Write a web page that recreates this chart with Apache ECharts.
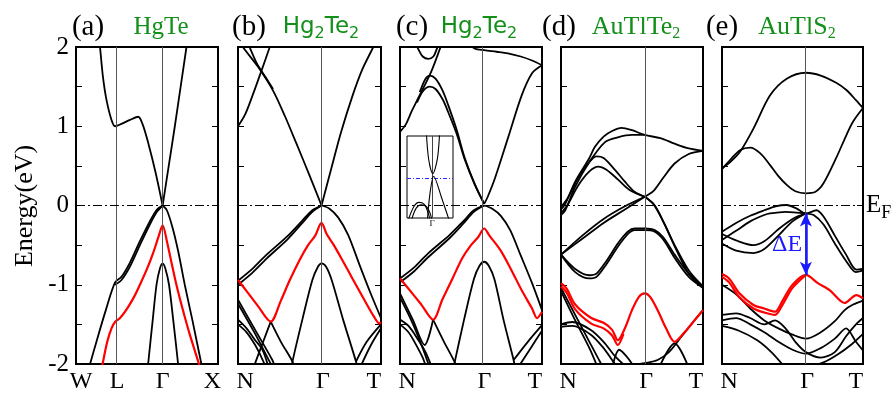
<!DOCTYPE html>
<html>
<head>
<meta charset="utf-8">
<script src="https://cdn.jsdelivr.net/npm/echarts@6/dist/echarts.min.js"></script>
<style>
  html, body { margin: 0; padding: 0; background: #fff; }
  #chart { width: 896px; height: 395px; }
</style>
</head>
<body>
<div id="chart"></div>
<script>
// ---- k-path labels ----
const kLabelsA = ['W', 'L', 'Γ', 'X'];
const kLabelPosA = [0.035, 0.29, 0.61, 0.96];
const kLinesA = [0.275, 0.61];
const kLabelsN = ['N', 'Γ', 'T'];
const gammaPos = [0.584, 0.584, 0.59, 0.595]; // panels b..e

// ---- (a) HgTe ----
const aBlack = [
  [[0.15,2.3],[0.169,2.0],[0.19,1.62],[0.215,1.33],[0.25,1.08],[0.275,1.0],[0.32,1.03],[0.38,1.08],[0.438,1.12],[0.47,1.02],[0.51,0.78],[0.56,0.42],[0.61,0.0]],
  [[0.61,0],[0.653,0.5],[0.696,1.0],[0.737,1.5],[0.778,2.0],[0.79,2.15]],
  [[0.08,-2.12],[0.15,-1.68],[0.21,-1.32],[0.275,-0.97],[0.32,-0.9],[0.38,-0.72],[0.45,-0.45],[0.52,-0.2],[0.57,-0.05],[0.61,0]],
  [[0.275,-1.0],[0.32,-0.94],[0.38,-0.77],[0.45,-0.5],[0.52,-0.24],[0.57,-0.08],[0.61,0]],
  [[0.61,0],[0.64,-0.06],[0.68,-0.28],[0.72,-0.58],[0.766,-1.0],[0.82,-1.45],[0.883,-2.0],[0.9,-2.15]],
  [[0.5,-2.15],[0.508,-2.0],[0.54,-1.45],[0.567,-1.0],[0.59,-0.8],[0.61,-0.73],[0.63,-0.8],[0.655,-1.0],[0.685,-1.45],[0.719,-2.0],[0.727,-2.15]]
];
const aRed = [
  [[0.17,-2.15],[0.187,-2.0],[0.22,-1.72],[0.25,-1.55],[0.275,-1.47],[0.31,-1.42],[0.36,-1.3],[0.41,-1.15],[0.45,-1.0],[0.5,-0.8],[0.543,-0.6],[0.58,-0.4],[0.61,-0.25],[0.64,-0.45],[0.67,-0.7],[0.707,-1.0],[0.75,-1.3],[0.8,-1.62],[0.866,-2.0],[0.89,-2.15]]
];

// ---- (b) Hg2Te2 ----
const bBlack = [
  [[0.584,0],[0.65,0.45],[0.72,0.92],[0.8,1.38],[0.87,1.72],[0.946,2.0],[0.97,2.1]],
  [[0.02,2.08],[0.035,2.0],[0.14,1.75],[0.245,1.45],[0.33,1.12],[0.409,0.78],[0.5,0.38],[0.584,0]],
  [[0.07,2.05],[0.13,1.8],[0.2,1.6],[0.245,1.47]],
  [[0,1.0],[0.05,1.15],[0.1,1.38],[0.16,1.68],[0.222,2.0],[0.24,2.1]],
  [[0,-0.95],[0.1,-0.8],[0.2,-0.62],[0.35,-0.38],[0.45,-0.19],[0.52,-0.06],[0.584,0]],
  [[0,-1.0],[0.1,-0.85],[0.2,-0.67],[0.35,-0.42],[0.45,-0.22],[0.52,-0.08],[0.584,0]],
  [[0.584,0],[0.64,-0.04],[0.7,-0.15],[0.77,-0.37],[0.85,-0.75],[0.93,-1.12],[1.0,-1.42]],
  [[0.36,-2.2],[0.381,-1.97],[0.45,-1.44],[0.52,-0.94],[0.56,-0.77],[0.584,-0.73],[0.615,-0.77],[0.655,-0.94],[0.735,-1.44],[0.825,-1.97],[0.84,-2.1]],
  [[0,-1.19],[0.12,-1.57],[0.24,-1.95],[0.26,-2.05]],
  [[0,-1.24],[0.12,-1.62],[0.23,-2.0],[0.245,-2.05]],
  [[0.229,-1.465],[0.3,-1.72],[0.381,-1.97],[0.39,-2.05]],
  [[0.11,-2.05],[0.124,-1.97],[0.18,-1.7],[0.229,-1.465]],
  [[0,-1.44],[0.06,-1.55],[0.12,-1.7],[0.171,-1.82],[0.21,-2.02]],
  [[0,-1.5],[0.06,-1.6],[0.12,-1.76],[0.16,-1.9],[0.19,-2.02]],
  [[0.825,-1.97],[0.9,-1.72],[1.0,-1.5]],
  [[0.86,-2.02],[0.93,-1.76],[1.0,-1.55]]
];
const bRed = [
  [[0,-0.94],[0.06,-1.08],[0.14,-1.27],[0.229,-1.465],[0.3,-1.2],[0.36,-0.95],[0.43,-0.69],[0.49,-0.5],[0.54,-0.38],[0.584,-0.22],[0.62,-0.36],[0.67,-0.5],[0.73,-0.69],[0.8,-0.92],[0.88,-1.18],[0.95,-1.4],[0.99,-1.49],[1.0,-1.47]]
];

// ---- (c) Hg2Te2 ----
const cBlack = [
  [[0.48,2.05],[0.527,1.98],[0.593,1.96],[0.68,1.94],[0.76,1.92],[0.85,1.88],[0.93,1.83],[1.0,1.77]],
  [[1.0,1.77],[0.93,1.67],[0.857,1.39],[0.76,0.85],[0.668,0.34],[0.62,0.12],[0.593,0.02]],
  [[0,0.93],[0.04,1.02],[0.08,1.18],[0.127,1.35],[0.22,1.69],[0.29,2.02],[0.3,2.06]],
  [[0.139,1.43],[0.18,1.6],[0.21,1.64],[0.25,1.6],[0.3,1.45],[0.339,1.27],[0.4,0.95],[0.456,0.6],[0.527,0.27],[0.593,0.02]],
  [[0.12,1.3],[0.16,1.44],[0.21,1.5],[0.25,1.47],[0.3,1.34],[0.339,1.18],[0.4,0.9],[0.456,0.58],[0.527,0.26],[0.593,0.02]],
  [[0.11,2.05],[0.127,1.98],[0.16,1.88],[0.2,1.85],[0.235,1.88],[0.26,1.98],[0.27,2.05]],
  [[0,-0.92],[0.1,-0.78],[0.2,-0.6],[0.35,-0.37],[0.45,-0.19],[0.52,-0.06],[0.593,0]],
  [[0,-0.97],[0.1,-0.83],[0.2,-0.65],[0.35,-0.41],[0.45,-0.22],[0.52,-0.08],[0.593,0]],
  [[0.593,0],[0.65,-0.04],[0.71,-0.13],[0.776,-0.31],[0.85,-0.63],[0.93,-0.98],[1.0,-1.32]],
  [[0.37,-2.1],[0.386,-1.97],[0.45,-1.45],[0.52,-0.93],[0.56,-0.76],[0.593,-0.71],[0.625,-0.76],[0.665,-0.93],[0.73,-1.45],[0.8,-1.95],[0.81,-2.05]],
  [[0.8,-1.95],[0.9,-1.72],[1.0,-1.51]],
  [[0.84,-2.02],[0.92,-1.8],[1.0,-1.58]],
  [[0,-1.11],[0.09,-1.44],[0.174,-1.76],[0.233,-1.44]],
  [[0,-1.16],[0.09,-1.49],[0.16,-1.8],[0.2,-2.0]],
  [[0.233,-1.44],[0.31,-1.72],[0.386,-1.98],[0.395,-2.05]],
  [[0,-1.44],[0.06,-1.52],[0.13,-1.7],[0.18,-1.85],[0.22,-2.02]],
  [[0,-1.5],[0.06,-1.6],[0.12,-1.78],[0.16,-1.92],[0.18,-2.02]]
];
const cRed = [
  [[0,-0.92],[0.06,-1.05],[0.15,-1.25],[0.233,-1.44],[0.3,-1.18],[0.37,-0.92],[0.44,-0.66],[0.5,-0.5],[0.55,-0.4],[0.593,-0.29],[0.63,-0.38],[0.706,-0.56],[0.78,-0.8],[0.86,-1.08],[0.93,-1.3],[0.965,-1.42],[1.0,-1.34]]
];
// inset of (c), axes 0..1
const insetBlack = [
  [[0.42,1.05],[0.47,0.72],[0.56,0.54],[0.66,0.72],[0.71,1.05]],
  [[0.44,-0.05],[0.5,0.3],[0.58,0.51],[0.75,0.25],[0.93,-0.05]],
  [[0.03,-0.02],[0.15,0.14],[0.26,0.19],[0.37,0.17],[0.45,0.08],[0.5,-0.02]],
  [[0.1,-0.02],[0.2,0.12],[0.31,0.16],[0.42,0.14],[0.5,0.06],[0.54,-0.02]]
];
const insetGamma = 0.547;
const insetFermi = 0.49;

// ---- (d) AuTlTe2 ----
const dBlack = [
  [[0,-0.05],[0.03,0.02],[0.1,0.3],[0.2,0.6],[0.239,0.74],[0.3,0.87],[0.36,0.94],[0.426,0.98],[0.5,0.95],[0.59,0.89],[0.7,0.85],[0.8,0.78],[0.9,0.72],[1,0.69]],
  [[0,-0.12],[0.03,-0.06],[0.1,0.24],[0.2,0.55],[0.31,0.8],[0.4,0.86],[0.5,0.89],[0.59,0.89]],
  [[0,-0.02],[0.05,0.1],[0.12,0.35],[0.2,0.55],[0.25,0.62],[0.3,0.6],[0.38,0.45],[0.45,0.3],[0.52,0.17],[0.59,0.11]],
  [[0,-0.1],[0.05,0.02],[0.12,0.25],[0.2,0.43],[0.262,0.49],[0.32,0.45],[0.4,0.33],[0.48,0.2],[0.59,0.11]],
  [[0.59,0.11],[0.65,0.18],[0.72,0.35],[0.8,0.53],[0.9,0.65],[1,0.69]],
  [[0.59,0.11],[0.65,0.02],[0.72,-0.2],[0.8,-0.5],[0.9,-0.82],[1,-1.02]],
  [[0.59,0.11],[0.66,0.0],[0.73,-0.24],[0.81,-0.55],[0.9,-0.86],[1,-1.04]],
  [[0,-0.62],[0.15,-0.42],[0.3,-0.22],[0.45,-0.05],[0.59,0.11]],
  [[0,-0.62],[0.15,-0.38],[0.3,-0.17],[0.45,-0.01],[0.59,0.11]],
  [[0,-0.62],[0.1,-0.8],[0.2,-0.88],[0.25,-0.86],[0.32,-0.7],[0.4,-0.48],[0.47,-0.33],[0.52,-0.29],[0.59,-0.29],[0.66,-0.31],[0.72,-0.4],[0.8,-0.62],[0.9,-0.86],[1,-1.02]],
  [[0,-0.62],[0.1,-0.84],[0.2,-0.92],[0.25,-0.9],[0.32,-0.74],[0.4,-0.52],[0.47,-0.36],[0.52,-0.31],[0.59,-0.31],[0.66,-0.33],[0.72,-0.43],[0.8,-0.66],[0.9,-0.9],[1,-1.04]],
  [[0,-1.04],[0.1,-1.38],[0.2,-1.72],[0.28,-1.99],[0.3,-2.05]],
  [[0,-1.08],[0.1,-1.45],[0.2,-1.8],[0.26,-2.05]],
  [[0,-1.5],[0.08,-1.47],[0.21,-1.57],[0.3,-1.72],[0.38,-1.9],[0.45,-2.02]],
  [[0,-1.53],[0.08,-1.52],[0.21,-1.63],[0.3,-1.8],[0.36,-1.95],[0.4,-2.05]],
  [[0.36,-2.05],[0.41,-1.82],[0.46,-1.9],[0.52,-2.05]],
  [[0.42,-2.1],[0.5,-2.02],[0.59,-1.99],[0.68,-1.95],[0.76,-1.85],[0.85,-1.65],[0.93,-1.47],[1,-1.32]],
  [[0.69,-2.05],[0.8,-1.74],[0.9,-2.05]]
];
const dRed = [
  [[0,-0.98],[0.04,-1.05],[0.1,-1.25],[0.213,-1.42],[0.3,-1.48],[0.36,-1.57],[0.4,-1.7],[0.45,-1.55],[0.5,-1.32],[0.55,-1.15],[0.59,-1.11],[0.63,-1.16],[0.68,-1.32],[0.74,-1.55],[0.8,-1.72],[0.87,-1.6],[0.94,-1.45],[1,-1.32]],
  [[0,-1.02],[0.04,-1.1],[0.1,-1.31],[0.213,-1.49],[0.3,-1.55],[0.36,-1.64],[0.4,-1.76],[0.44,-1.62]]
];

// ---- (e) AuTlS2 ----
const eBlack = [
  [[0,0.47],[0.06,0.55],[0.129,0.68],[0.223,0.97],[0.341,1.39],[0.459,1.6],[0.595,1.675],[0.7,1.64],[0.81,1.55],[0.88,1.46],[0.95,1.33],[1,1.23]],
  [[0,0.46],[0.06,0.58],[0.13,0.7],[0.2,0.73],[0.27,0.66],[0.341,0.51],[0.4,0.37],[0.459,0.26],[0.52,0.18],[0.595,0.154],[0.66,0.17],[0.72,0.28],[0.81,0.6],[0.88,0.88],[0.93,1.06],[1,1.23]],
  [[0,-0.33],[0.1,-0.22],[0.2,-0.13],[0.3,-0.06],[0.38,-0.01],[0.459,0.006],[0.53,-0.04],[0.595,-0.1],[0.67,-0.06],[0.72,-0.14],[0.8,-0.38],[0.88,-0.62],[0.953,-0.81],[1,-0.8]],
  [[0,-0.435],[0.1,-0.32],[0.2,-0.2],[0.3,-0.12],[0.341,-0.1],[0.45,-0.08],[0.595,-0.1],[0.65,-0.12],[0.72,-0.24],[0.8,-0.48],[0.88,-0.7],[0.95,-0.84],[1,-0.82]],
  [[0,-0.36],[0.1,-0.44],[0.223,-0.5],[0.3,-0.45],[0.4,-0.3],[0.5,-0.17],[0.595,-0.1]],
  [[0,-0.48],[0.1,-0.57],[0.223,-0.6],[0.3,-0.55],[0.4,-0.38],[0.5,-0.2],[0.595,-0.1]],
  [[0,-1.0],[0.1,-1.12],[0.2,-1.3],[0.3,-1.45],[0.4,-1.55],[0.5,-1.63],[0.595,-1.68],[0.7,-1.6],[0.8,-1.46],[0.87,-1.32],[0.93,-1.25],[1,-1.2]],
  [[0,-1.38],[0.1,-1.36],[0.2,-1.42],[0.3,-1.5],[0.376,-1.45],[0.45,-1.55],[0.52,-1.72],[0.595,-1.85],[0.7,-1.92],[0.8,-1.85],[0.88,-1.65],[0.95,-1.5],[1,-1.42]],
  [[0,-1.45],[0.1,-1.42],[0.2,-1.5],[0.3,-1.6],[0.4,-1.72],[0.5,-1.82],[0.595,-1.87],[0.7,-1.8],[0.8,-1.68],[0.88,-1.55],[0.95,-1.72],[1,-1.83]],
  [[0,-1.52],[0.12,-1.58],[0.25,-1.7],[0.35,-1.85],[0.45,-2.05]],
  [[0.6,-2.05],[0.72,-1.98],[0.82,-1.88],[0.92,-1.75],[1,-1.62]]
];
const eRed = [
  [[0,-0.864],[0.05,-0.92],[0.12,-1.1],[0.223,-1.255],[0.3,-1.3],[0.376,-1.34],[0.43,-1.2],[0.5,-1.0],[0.595,-0.876],[0.68,-0.98],[0.765,-1.07],[0.87,-1.23],[0.953,-1.13],[1,-1.17]],
  [[0,-0.9],[0.05,-0.97],[0.12,-1.15],[0.223,-1.3],[0.3,-1.35],[0.376,-1.38],[0.43,-1.25],[0.5,-1.04],[0.595,-0.876]]
];
const gapEnds = [-0.1, -0.875]; // ΔE arrow at Γ

// ---- titles ----
const panelTags = ['(a)', '(b)', '(c)', '(d)', '(e)'];
const panelNames = ['{n|HgTe}', '{n|Hg}{s|2}{n|Te}{s|2}', '{n|Hg}{s|2}{n|Te}{s|2}', '{n|AuTlTe}{s|2}', '{n|AuTlS}{s|2}'];

const SERIF = 'Liberation Serif';
const SANS = 'DejaVu Sans';
const GREEN = '#13901a';

const frames = [
  { left: 76, width: 142 }, { left: 238, width: 143 }, { left: 400, width: 142 },
  { left: 561, width: 142 }, { left: 722, width: 141 }
];
const panels = [
  { black: aBlack, red: aRed, vlines: kLinesA, labels: kLabelsA, labelPos: kLabelPosA },
  { black: bBlack, red: bRed, vlines: [gammaPos[0]], labels: kLabelsN, labelPos: [0.05, gammaPos[0] + 0.01, 0.95] },
  { black: cBlack, red: cRed, vlines: [gammaPos[1]], labels: kLabelsN, labelPos: [0.05, gammaPos[1] + 0.01, 0.95] },
  { black: dBlack, red: dRed, vlines: [gammaPos[2]], labels: kLabelsN, labelPos: [0.05, gammaPos[2] + 0.01, 0.95] },
  { black: eBlack, red: eRed, vlines: [gammaPos[3]], labels: kLabelsN, labelPos: [0.05, gammaPos[3] + 0.01, 0.95] }
];

const grid = [], xAxis = [], yAxis = [], series = [];

panels.forEach((p, i) => {
  grid.push({ left: frames[i].left, top: 47, width: frames[i].width, height: 317,
    show: true, borderColor: '#000', borderWidth: 2, backgroundColor: 'transparent' });
  xAxis.push({
    type: 'value', gridIndex: i, min: 0, max: 1,
    axisLine: { show: false }, axisTick: { show: false }, splitLine: { show: false },
    axisLabel: {
      customValues: p.labelPos,
      formatter: (v) => {
        let best = 0;
        p.labelPos.forEach((q, k) => { if (Math.abs(q - v) < Math.abs(p.labelPos[best] - v)) best = k; });
        return p.labels[best];
      },
      fontFamily: SERIF, fontSize: 24, color: '#000', margin: 6
    }
  });
  const yBase = {
    type: 'value', gridIndex: i, min: -2, max: 2, interval: 0.5,
    axisLine: { show: false }, splitLine: { show: false },
    axisTick: { show: true, inside: true, length: 6, lineStyle: { color: '#000', width: 1 } }
  };
  yAxis.push(Object.assign({}, yBase, {
    position: 'left',
    axisLabel: {
      show: i === 0, formatter: (v) => (Number.isInteger(v) ? String(v) : ''),
      fontFamily: SERIF, fontSize: 25, color: '#000', margin: 7
    }
  }));
  yAxis.push(Object.assign({}, yBase, { position: 'right', axisLabel: { show: false } }));

  const markData = p.vlines.map(v => ({ xAxis: v, lineStyle: { color: '#555', width: 1, type: 'solid' } }));
  markData.push({ yAxis: 0, lineStyle: { color: '#000', width: 1, type: [9, 3, 2, 3] } });
  series.push({
    type: 'line', xAxisIndex: i, yAxisIndex: i * 2, data: [[p.vlines[0], 0]],
    symbol: 'none', lineStyle: { width: 0 }, silent: true, z: 1,
    markLine: { silent: true, symbol: 'none', label: { show: false }, animation: false, data: markData }
  });

  p.black.forEach(pts => series.push({
    type: 'line', xAxisIndex: i, yAxisIndex: i * 2, data: pts, symbol: 'none',
    smooth: 0.3, silent: true, z: 3, lineStyle: { color: '#000', width: 1.8 }
  }));
  p.red.forEach(pts => series.push({
    type: 'line', xAxisIndex: i, yAxisIndex: i * 2, data: pts, symbol: 'none',
    smooth: 0.3, silent: true, z: 4, lineStyle: { color: '#ff0000', width: 2.2 }
  }));
});

// ΔE arrow in (e)
series.push({
  type: 'line', xAxisIndex: 4, yAxisIndex: 8, data: [[gammaPos[3], gapEnds[0]]],
  symbol: 'none', lineStyle: { width: 0 }, silent: true, z: 6,
  markLine: {
    silent: true, symbol: ['arrow', 'arrow'], symbolSize: [9, 13], label: { show: false },
    lineStyle: { color: '#1a1aff', width: 2.5, type: 'solid' },
    data: [[{ coord: [gammaPos[3], gapEnds[0]] }, { coord: [gammaPos[3], gapEnds[1]] }]]
  }
});

// inset of (c)
grid.push({ left: 407, top: 136, width: 46, height: 82, show: true, borderColor: '#000', borderWidth: 1, backgroundColor: '#fff', z: 5 });
xAxis.push({
  type: 'value', gridIndex: 5, min: 0, max: 1,
  axisLine: { show: false }, axisTick: { show: false }, splitLine: { show: false },
  axisLabel: { customValues: [insetGamma], formatter: () => 'Γ', fontFamily: SERIF, fontSize: 9, color: '#000', margin: 1 }
});
yAxis.push({ type: 'value', gridIndex: 5, min: 0, max: 1, show: false });
series.push({
  type: 'line', xAxisIndex: 5, yAxisIndex: 10, data: [[insetGamma, insetFermi]],
  symbol: 'none', lineStyle: { width: 0 }, silent: true, z: 6,
  markLine: {
    silent: true, symbol: 'none', label: { show: false },
    data: [
      { xAxis: insetGamma, lineStyle: { color: '#444', width: 1, type: 'solid' } },
      { yAxis: insetFermi, lineStyle: { color: '#2a2aff', width: 1, type: [4, 2, 1, 2] } }
    ]
  }
});
insetBlack.forEach(pts => series.push({
  type: 'line', xAxisIndex: 5, yAxisIndex: 10, data: pts, symbol: 'none',
  smooth: 0.3, silent: true, z: 7, lineStyle: { color: '#000', width: 1.1 }
}));

// texts
const tagX = [88, 249, 412, 559, 722];
const nameX = [161, 321, 479, 636, 797];
const nameFont = [SERIF, SANS, SANS, SERIF, SERIF];
const nameSize = [25, 23, 23, 26, 26];
const graphic = [];
panelTags.forEach((t, i) => {
  graphic.push({ type: 'text', x: tagX[i], y: 27,
    style: { text: t, fontFamily: SERIF, fontSize: 29, fill: '#000', align: 'center', verticalAlign: 'middle' } });
  graphic.push({ type: 'text', x: nameX[i], y: 12,
    style: {
      text: panelNames[i], align: 'center', verticalAlign: 'top',
      rich: {
        n: { fontFamily: nameFont[i], fontSize: nameSize[i], fill: GREEN, lineHeight: 30 },
        s: { fontFamily: nameFont[i], fontSize: 16, fill: GREEN, lineHeight: 9, verticalAlign: 'bottom' }
      }
    } });
});
graphic.push({ type: 'text', x: 25, y: 206, rotation: Math.PI / 2,
  style: { text: 'Energy(eV)', fontFamily: SERIF, fontSize: 26, fill: '#000', align: 'center', verticalAlign: 'middle' } });
graphic.push({ type: 'text', x: 787, y: 245,
  style: { text: 'ΔE', fontFamily: SERIF, fontSize: 24, fill: '#1a1aff', align: 'center', verticalAlign: 'middle' } });
graphic.push({ type: 'text', x: 866, y: 188,
  style: {
    text: '{n|E}{s|F}', align: 'left', verticalAlign: 'top',
    rich: {
      n: { fontFamily: SERIF, fontSize: 25, fill: '#000', lineHeight: 34 },
      s: { fontFamily: SERIF, fontSize: 18, fill: '#000', lineHeight: 6, verticalAlign: 'bottom' }
    }
  } });

const chart = echarts.init(document.getElementById('chart'));
chart.setOption({
  animation: false,
  backgroundColor: '#fff',
  grid, xAxis, yAxis, series, graphic
});
</script>
</body>
</html>
